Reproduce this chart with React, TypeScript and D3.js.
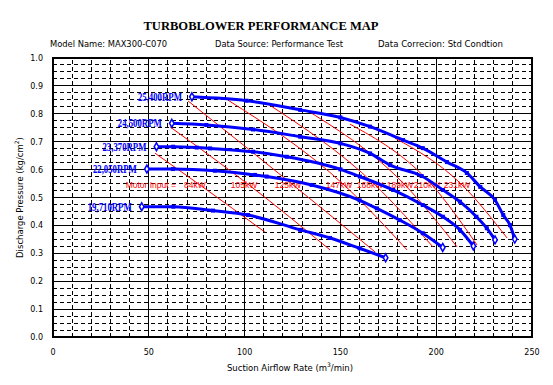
import React, { useRef, useEffect } from 'react';
import * as d3 from 'd3';

type Pt = [number, number];

const title = 'TURBOBLOWER PERFORMANCE MAP';
const modelText = 'Model Name: MAX300-C070';
const sourceText = 'Data Source: Performance Test';
const correctionText = 'Data Correcion: Std Condtion';

const xTicks = [0, 50, 100, 150, 200, 250];
const yTicks = [0, 0.1, 0.2, 0.3, 0.4, 0.5, 0.6, 0.7, 0.8, 0.9, 1.0];

const speedLabels = ['25,400RPM', '24,500RPM', '23,370RPM', '22,050RPM', '19,710RPM'];

// airflow (m3/min), pressure (kg/cm2)
const rpm25400: Pt[] = [[72.5, 0.861], [101, 0.847], [129, 0.814], [150, 0.787], [165.5, 0.754], [182.7, 0.706], [193, 0.677], [205.6, 0.627], [216, 0.588], [223, 0.538], [230.7, 0.491], [235, 0.437], [238.5, 0.401], [241, 0.351]];
const rpm24500: Pt[] = [[62, 0.766], [80, 0.76], [104.4, 0.744], [129, 0.718], [150, 0.694], [165.5, 0.658], [176, 0.616], [192.4, 0.577], [203.5, 0.527], [212.4, 0.485], [221, 0.431], [226.4, 0.39], [230.7, 0.348]];
const rpm23370: Pt[] = [[54, 0.682], [62.7, 0.682], [75, 0.679], [82, 0.676], [104.4, 0.664], [122, 0.646], [150, 0.601], [160.2, 0.575], [177.5, 0.527], [193, 0.473], [203.5, 0.431], [212.4, 0.384], [219.4, 0.326]];
const rpm22050: Pt[] = [[49, 0.602], [62.6, 0.602], [84.5, 0.596], [105.4, 0.581], [111.5, 0.575], [135, 0.545], [160, 0.49], [169, 0.461], [181, 0.419], [193, 0.372], [203.4, 0.321]];
const rpm19710: Pt[] = [[46.3, 0.467], [62.8, 0.467], [83.5, 0.453], [101.8, 0.437], [129, 0.384], [144.6, 0.355], [160, 0.318], [173.6, 0.284]];
const speedSeries = [rpm25400, rpm24500, rpm23370, rpm22050, rpm19710];

const powerLabels = ['84kW', '105kW', '125kW', '147kW', '168kW', '189kW', '210kW', '231kW'];
const kw84: Pt[] = [[53.2, 0.659], [76.7, 0.545], [110.6, 0.376]];
const kw105: Pt[] = [[61.1, 0.753], [102.3, 0.545], [144.6, 0.312]];
const kw125: Pt[] = [[70.5, 0.846], [125.3, 0.545], [168.1, 0.305]];
const kw147: Pt[] = [[91.3, 0.849], [151.9, 0.545], [184.8, 0.312]];
const kw168: Pt[] = [[112.2, 0.835], [168.1, 0.545], [198.3, 0.323]];
const kw189: Pt[] = [[134.1, 0.806], [183.7, 0.545], [210.9, 0.323]];
const kw210: Pt[] = [[155, 0.763], [197.8, 0.545], [221.3, 0.33]];
const kw231: Pt[] = [[178.5, 0.713], [213.5, 0.545], [237, 0.355]];
const powerSeries = [kw84, kw105, kw125, kw147, kw168, kw189, kw210, kw231];

const App: React.FC = () => {
  const ref = useRef<SVGSVGElement>(null);
  const width = 553;
  const height = 385;
  const margin = { top: 58, right: 21, bottom: 48, left: 53 };

  useEffect(() => {
    if (!ref.current) return;
    const svg = d3.select(ref.current);
    svg.selectAll('*').remove();

    const x = d3.scaleLinear().domain([0, 250]).range([margin.left, width - margin.right]);
    const y = d3.scaleLinear().domain([0, 1]).range([height - margin.bottom, margin.top]);
    const sans = '"DejaVu Sans", sans-serif';
    const arial = '"Liberation Sans", Arial, sans-serif';

    svg.append('rect').attr('width', width).attr('height', height).attr('fill', '#fff');

    // title and header
    svg.append('text')
      .attr('x', 261).attr('y', 30)
      .attr('text-anchor', 'middle')
      .attr('font-family', '"Liberation Serif", serif')
      .attr('font-weight', 'bold').attr('font-size', 13)
      .attr('textLength', 235).attr('lengthAdjust', 'spacingAndGlyphs')
      .text(title);

    const header = [[50, 117, modelText], [215, 128, sourceText], [378, 125, correctionText]] as const;
    header.forEach(([hx, len, t]) => {
      svg.append('text')
        .attr('x', hx).attr('y', 47)
        .attr('font-family', sans).attr('font-size', 8)
        .attr('textLength', len).attr('lengthAdjust', 'spacingAndGlyphs')
        .text(t);
    });

    // grid
    const grid = svg.append('g').attr('shape-rendering', 'crispEdges');
    d3.range(10, 250, 10).forEach(v => {
      const major = v % 50 === 0;
      grid.append('line')
        .attr('x1', x(v)).attr('x2', x(v))
        .attr('y1', y(0)).attr('y2', y(1))
        .attr('stroke', '#000').attr('stroke-width', 1)
        .attr('stroke-dasharray', major ? null : '4,3');
    });
    d3.range(1, 40).forEach(i => {
      const p = i * 0.025;
      const major = i % 4 === 0;
      grid.append('line')
        .attr('x1', x(0)).attr('x2', x(250))
        .attr('y1', y(p)).attr('y2', y(p))
        .attr('stroke', '#000').attr('stroke-width', 1)
        .attr('stroke-dasharray', major ? null : '4,3');
    });
    grid.append('rect')
      .attr('x', x(0)).attr('y', y(1))
      .attr('width', x(250) - x(0)).attr('height', y(0) - y(1))
      .attr('fill', 'none').attr('stroke', '#000').attr('stroke-width', 2.5);

    // axes labels
    xTicks.forEach(v => {
      svg.append('text')
        .attr('x', x(v)).attr('y', 355)
        .attr('text-anchor', 'middle')
        .attr('font-family', sans).attr('font-size', 8)
        .text(v);
    });
    yTicks.forEach(v => {
      svg.append('text')
        .attr('x', 43).attr('y', y(v) + 3)
        .attr('text-anchor', 'end')
        .attr('font-family', sans).attr('font-size', 8)
        .text(v.toFixed(1));
    });

    const xt = svg.append('text')
      .attr('x', 290).attr('y', 371)
      .attr('text-anchor', 'middle')
      .attr('font-family', sans).attr('font-size', 8.5);
    xt.append('tspan').text('Suction Airflow Rate (m');
    xt.append('tspan').attr('dy', -4).attr('font-size', 6).text('3');
    xt.append('tspan').attr('dy', 4).text('/min)');

    const yt = svg.append('text')
      .attr('transform', `translate(23,${(y(0) + y(1)) / 2}) rotate(-90)`)
      .attr('text-anchor', 'middle')
      .attr('font-family', sans).attr('font-size', 8.5);
    yt.append('tspan').text('Discharge Pressure (kg/cm');
    yt.append('tspan').attr('dy', -4).attr('font-size', 6).text('2');
    yt.append('tspan').attr('dy', 4).text(')');

    const line = d3.line<Pt>()
      .x(d => x(d[0]))
      .y(d => y(d[1]))
      .curve(d3.curveMonotoneX);

    // motor input lines
    const labelP = 0.545;
    powerSeries.forEach(s => {
      svg.append('path')
        .datum(s)
        .attr('fill', 'none').attr('stroke', '#ff0000').attr('stroke-width', 1)
        .attr('d', line);
    });
    powerSeries.forEach((s, i) => {
      svg.append('text')
        .attr('x', x(s[1][0]) - 5).attr('y', y(labelP) + 3)
        .attr('text-anchor', 'middle')
        .attr('font-family', arial).attr('font-size', 8.5).attr('fill', '#ff0000')
        .text(powerLabels[i]);
    });
    svg.append('text')
      .attr('x', x(kw84[1][0]) - 24).attr('y', y(labelP) + 3)
      .attr('text-anchor', 'end')
      .attr('font-family', arial).attr('font-size', 8.5).attr('fill', '#ff0000')
      .text('Motor Input =');

    // speed curves
    speedSeries.forEach((s, i) => {
      svg.append('path')
        .datum(s)
        .attr('fill', 'none').attr('stroke', '#0000ff').attr('stroke-width', 3)
        .attr('d', line);
      svg.selectAll(null)
        .data(s.slice(1, -1))
        .enter().append('rect')
        .attr('x', d => x(d[0]) - 2).attr('y', d => y(d[1]) - 2)
        .attr('width', 4).attr('height', 4)
        .attr('fill', '#0000ff');
      [s[0], s[s.length - 1]].forEach(d => {
        svg.append('path')
          .attr('d', d3.symbol(d3.symbolDiamond, 18)())
          .attr('transform', `translate(${x(d[0])},${y(d[1])})`)
          .attr('fill', '#fff').attr('stroke', '#0000ff').attr('stroke-width', 1.5);
      });
      svg.append('text')
        .attr('x', x(s[0][0]) - 10).attr('y', y(s[0][1]) + 4)
        .attr('text-anchor', 'end')
        .attr('font-family', '"Liberation Serif", serif')
        .attr('font-weight', 'bold').attr('font-size', 12)
        .attr('fill', '#0000ff')
        .attr('textLength', 44).attr('lengthAdjust', 'spacingAndGlyphs')
        .text(speedLabels[i]);
    });
  }, []);

  return (
    <svg ref={ref} width={width} height={height} viewBox={`0 0 ${width} ${height}`}
      style={{ position: 'absolute', left: 0, top: 0 }} />
  );
};

export default App;
